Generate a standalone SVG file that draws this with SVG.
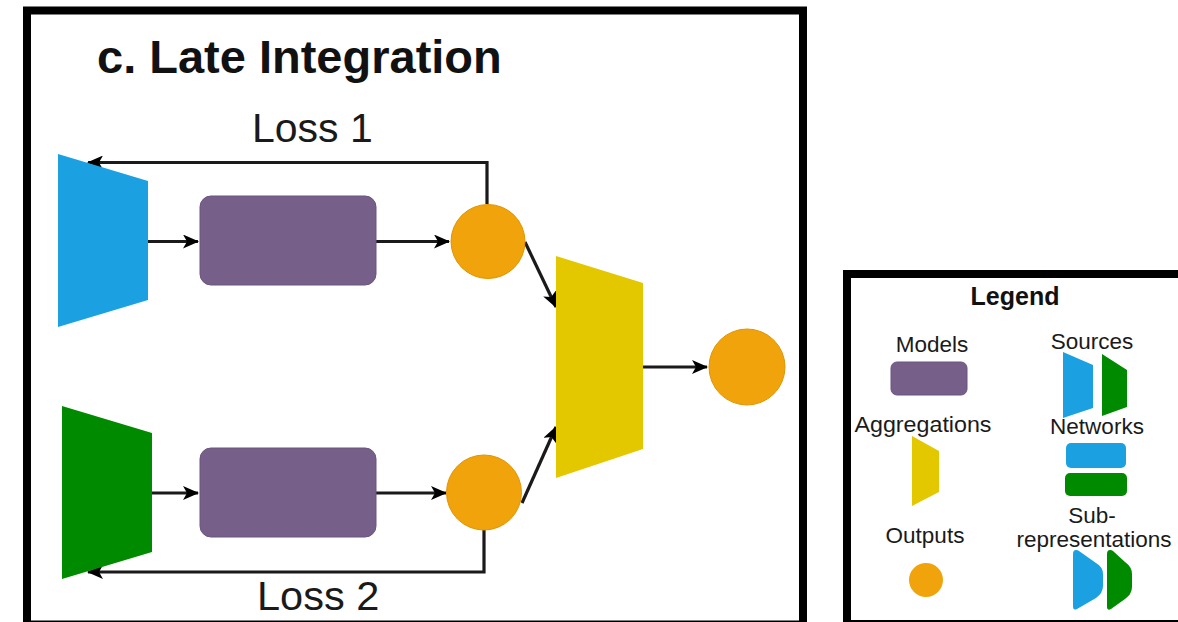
<svg xmlns="http://www.w3.org/2000/svg" width="1178" height="622" viewBox="0 0 1178 622">
  <style>
    .frame { fill: #ffffff; stroke: #000000; stroke-width: 8; }
    .lbl { font-family: "Liberation Sans", Arial, sans-serif; fill: #1a1a1a; }
    .title { font-family: "Liberation Sans", Arial, sans-serif; font-weight: bold; fill: #111111; }
    .leg { font-family: "Liberation Sans", Arial, sans-serif; font-size: 22.5px; fill: #1a1a1a; text-anchor: middle; }
    .edge { fill: none; stroke: #1a1a1a; stroke-width: 3.2; marker-end: url(#arrow); }
    .blue { fill: #1ba1e2; }
    .green { fill: #008a00; }
    .yellow { fill: #e3c800; }
    .orange { fill: #f0a30a; stroke: #e39400; stroke-width: 1; }
    .model { fill: #76608a; stroke: #6a5580; stroke-width: 1; }
  </style>
  <defs>
    <marker id="arrow" viewBox="0 0 16 14" refX="15" refY="7" markerWidth="16" markerHeight="14" markerUnits="userSpaceOnUse" orient="auto">
      <path d="M0,0 L16,7 L0,14 L4,7 Z" fill="#000000"/>
    </marker>
  </defs>

  <rect width="1178" height="622" fill="#ffffff"/>

  <!-- main panel -->
  <rect class="frame" x="27" y="10.5" width="776" height="614"/>
  <text class="title" x="97" y="73" font-size="47">c. Late Integration</text>
  <text class="lbl" x="252" y="142" font-size="41">Loss 1</text>
  <text class="lbl" x="257" y="610" font-size="41.5">Loss 2</text>

  <!-- connectors -->
  <g id="connectors">
    <polyline class="edge" points="487,204 487,162.5 88,162.5"/>
    <line class="edge" x1="148" y1="241.5" x2="198" y2="241.5"/>
    <line class="edge" x1="376" y1="241.5" x2="449" y2="241.5"/>
    <line class="edge" x1="525" y1="242" x2="556" y2="307"/>
    <line class="edge" x1="522" y1="503" x2="556" y2="427"/>
    <line class="edge" x1="643" y1="367" x2="707" y2="367"/>
    <line class="edge" x1="152" y1="493" x2="198" y2="493"/>
    <line class="edge" x1="376" y1="493" x2="446" y2="493"/>
    <polyline class="edge" points="484,530 484,572 88,572"/>
  </g>

  <!-- nodes -->
  <g id="source1"><polygon class="blue" points="58,154 148,181 148,300 58,327"/></g>
  <g id="source2"><polygon class="green" points="62,406 152,433 152,552 62,579"/></g>
  <g id="model1"><rect class="model" x="200" y="196" width="176" height="89" rx="11"/></g>
  <g id="model2"><rect class="model" x="200" y="448" width="176" height="89" rx="11"/></g>
  <g id="output1"><circle class="orange" cx="488" cy="241.5" r="37"/></g>
  <g id="output2"><circle class="orange" cx="484" cy="492.5" r="37.5"/></g>
  <g id="aggregation"><polygon class="yellow" points="556,256 643,283 643,449 556,478"/></g>
  <g id="final-output"><circle class="orange" cx="747" cy="367" r="38"/></g>

  <!-- legend -->
  <g id="legend">
    <rect class="frame" x="847" y="274" width="340" height="350"/>
    <text class="title" x="1015" y="305" font-size="25" text-anchor="middle">Legend</text>

    <text class="leg" x="932" y="352">Models</text>
    <rect class="model" x="891" y="362" width="76" height="33" rx="6"/>

    <text class="leg" x="1092" y="349">Sources</text>
    <polygon class="blue" points="1063,352 1093,365 1093,408 1063,418"/>
    <polygon class="green" points="1102,354 1127,370 1127,407 1102,416"/>

    <text class="leg" x="923" y="432" textLength="137" lengthAdjust="spacingAndGlyphs">Aggregations</text>
    <polygon class="yellow" points="912,436 939,451 939,492 912,506"/>

    <text class="leg" x="1097" y="434">Networks</text>
    <rect class="blue" x="1066" y="443" width="60" height="25" rx="5"/>
    <rect class="green" x="1065" y="473" width="62" height="23" rx="5"/>

    <text class="leg" x="925" y="543">Outputs</text>
    <circle cx="926" cy="580" r="17" fill="#f0a30a"/>

    <text class="leg" x="1092" y="523">Sub-</text>
    <text class="leg" x="1094" y="547">representations</text>
    <path class="blue" d="M1076,550 Q1073,550 1073,554 L1073,606 Q1073,611 1077,609 L1096,598 Q1103,593 1103,586 L1103,574 Q1103,567 1096,563 L1079,551 Q1078,550 1076,550 Z"/>
    <path class="green" d="M1110,550 Q1107,550 1107,554 L1107,607 Q1107,611 1111,609 L1125,599 Q1132,594 1132,587 L1132,574 Q1132,567 1125,562 L1113,551 Q1112,550 1110,550 Z"/>
  </g>
</svg>
